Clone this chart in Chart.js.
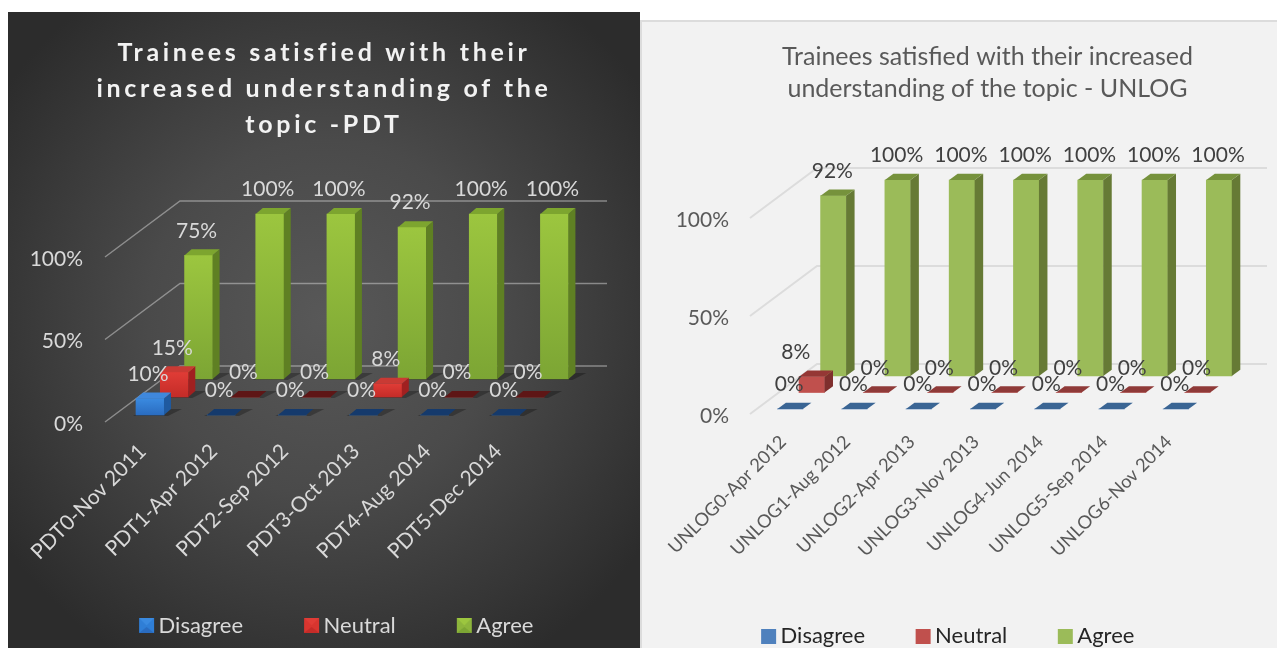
<!DOCTYPE html>
<html>
<head>
<meta charset="utf-8">
<script src="https://cdn.jsdelivr.net/npm/chart.js@4"></script>
<style>
html,body{margin:0;padding:0;background:#fff;width:1277px;height:648px;overflow:hidden}
#p1{position:absolute;left:8px;top:12px;width:632px;height:636px;background:radial-gradient(ellipse 62% 62% at 50% 48%,#585858 0%,#4a4a4a 45%,#2c2c2c 100%)}
#p2{position:absolute;left:640px;top:20px;width:637px;height:628px;background:#f2f2f2;box-shadow:inset 2px 2px 0 #dcdcdc}
canvas{display:block}
</style>
</head>
<body>
<div id="p1"><canvas id="c1" width="632" height="636"></canvas></div>
<div id="p2"><canvas id="c2" width="637" height="628"></canvas></div>
<script>
const seriesNames = ['Disagree','Neutral','Agree'];
const pdtCategories = ['PDT0-Nov 2011','PDT1-Apr 2012','PDT2-Sep 2012','PDT3-Oct 2013','PDT4-Aug 2014','PDT5-Dec 2014'];
const pdtDisagree = [10,0,0,0,0,0];
const pdtNeutral  = [15,0,0,8,0,0];
const pdtAgree    = [75,100,100,92,100,100];
const unlogCategories = ['UNLOG0-Apr 2012','UNLOG1-Aug 2012','UNLOG2-Apr 2013','UNLOG3-Nov 2013','UNLOG4-Jun 2014','UNLOG5-Sep 2014','UNLOG6-Nov 2014'];
const unlogDisagree = [0,0,0,0,0,0,0];
const unlogNeutral  = [8,0,0,0,0,0,0];
const unlogAgree    = [92,100,100,100,100,100,100];
const yTicks = [0,50,100];

const FONT = 'Lato, Carlito, sans-serif';

function marker(col, bevel){
  const c = document.createElement('canvas'); c.width = 30; c.height = 15;
  const g = c.getContext('2d'), x = 14;
  g.fillStyle = col.front; g.fillRect(x,0,15,15);
  if (bevel){
    g.fillStyle = col.light; g.beginPath(); g.moveTo(x,0); g.lineTo(x+15,0); g.lineTo(x+7.5,7.5); g.fill();
    g.fillStyle = col.dark; g.beginPath(); g.moveTo(x,15); g.lineTo(x+15,15); g.lineTo(x+7.5,9); g.fill();
  }
  return c;
}

function para(ctx, pts, fill){
  ctx.fillStyle = fill; ctx.beginPath();
  pts.forEach((p,i)=> i ? ctx.lineTo(p[0],p[1]) : ctx.moveTo(p[0],p[1]));
  ctx.closePath(); ctx.fill();
}

function bars3d(st){
  return {
    id:'bars3d',
    start(chart){
      const ctx = chart.ctx, tb = chart.titleBlock, od = tb.draw;
      tb.draw = function(a){
        ctx.save(); ctx.translate(st.titleDx,0);
        if ('letterSpacing' in ctx) ctx.letterSpacing = st.titleSpacing;
        od.call(this,a); ctx.restore();
      };
      const lg = chart.legend, of = lg.fit;
      lg.fit = function(){
        const mw = this.maxWidth; this.maxWidth = 3000;
        of.call(this);
        this.maxWidth = mw; this.height = st.legendH; this.width = mw;
      };
    },
    afterLayout(chart){
      const lg = chart.legend;
      lg.left = st.legendDx; lg.right = chart.width + st.legendDx; lg.top += st.legendDy;
    },
    beforeDatasetsDraw(chart){
      const ctx = chart.ctx, a = chart.chartArea, y = chart.scales.y;
      ctx.save(); ctx.strokeStyle = st.grid; ctx.lineWidth = st.gridW;
      y.ticks.forEach(t=>{
        const p = y.getPixelForValue(t.value);
        ctx.beginPath(); ctx.moveTo(a.left,p);
        ctx.lineTo(a.left+st.floorDx,p+st.floorDy);
        ctx.lineTo(a.right+st.floorDx,p+st.floorDy);
        ctx.stroke();
      });
      ctx.restore();
    },
    beforeDatasetDraw(chart,args){
      const ctx = chart.ctx, i = args.index, meta = args.meta;
      ctx.save();
      ctx.translate(st.baseDx+st.stepDx*i, st.baseDy+st.stepDy*i);
      if (st.shadow) meta.data.forEach(b=>{
        const l=b.x-b.width/2, r=b.x+b.width/2, bs=b.base;
        para(ctx,[[l-3,bs+1],[r+4,bs+1],[r+st.depthDx+11,bs+st.depthDy+0],[l+st.depthDx+3,bs+st.depthDy]],st.shadow);
      });
    },
    afterDatasetDraw(chart,args){
      const ctx = chart.ctx, i = args.index, meta = args.meta, col = st.colors[i];
      meta.data.forEach(b=>{
        const l=b.x-b.width/2, r=b.x+b.width/2, t=b.y, bs=b.base, dx=st.depthDx, dy=st.depthDy;
        const zero = Math.abs(bs-t) < 0.5;
        if (!zero) para(ctx,[[r,t],[r+dx,t+dy],[r+dx,bs+dy],[r,bs]],col.side);
        para(ctx,[[l,t],[r,t],[r+dx,t+dy],[l+dx,t+dy]],zero?col.plate:col.top);
      });
      ctx.restore();
    },
    afterDatasetsDraw(chart){
      const ctx = chart.ctx;
      ctx.save();
      ctx.font = st.labelFont; ctx.fillStyle = st.labelColor;
      ctx.textAlign='center'; ctx.textBaseline='middle';
      chart.data.datasets.forEach((ds,i)=>{
        chart.getDatasetMeta(i).data.forEach((b,j)=>{
          const nudge = (st.nudge[i] && st.nudge[i][j]) || 0;
          ctx.fillText(ds.data[j]+'%', b.x+st.baseDx+st.stepDx*i+st.labelDx+nudge, b.y+st.baseDy+st.stepDy*i+st.labelDy);
        });
      });
      ctx.restore();
    }
  };
}

function build(id, cats, vals, title, st){
  const c = document.getElementById(id);
  const chart = new Chart(c,{
    type:'bar',
    data:{labels:cats,datasets:vals.map((v,i)=>({
      label:seriesNames[i],data:v,grouped:false,barThickness:st.barW,
      backgroundColor:(cx)=>{
        const col = st.colors[i];
        if (!st.gradient || !cx.chart.chartArea) return col.front;
        const y = cx.chart.scales.y;
        const t = y.getPixelForValue(cx.raw||0), b = y.getPixelForValue(0);
        const g = cx.chart.ctx.createLinearGradient(0,t,0,b+0.01);
        g.addColorStop(0,col.light); g.addColorStop(1,col.dark);
        return g;
      },
      clip:false
    }))},
    options:{
      responsive:false,animation:false,
      layout:{padding:{right:st.padRight}},
      plugins:{
        tooltip:{enabled:false},
        title:{display:true,text:title,color:st.titleColor,
          font:{family:FONT,size:st.titleSize,weight:st.titleWeight,lineHeight:st.titleLH/st.titleSize},
          padding:{top:st.titleTop,bottom:st.titleBottom}},
        legend:{position:'bottom',
          labels:{color:st.legendColor,font:{family:FONT,size:st.legendSize},boxWidth:15,usePointStyle:true,padding:st.legendPad,
            generateLabels(ch){
              return Chart.defaults.plugins.legend.labels.generateLabels(ch).map((it,k)=>{
                it.pointStyle = marker(st.colors[k],!!st.gradient); return it;
              });
            }}}
      },
      scales:{
        x:{offset:true,grid:{display:false},border:{display:false},
          afterFit(s){s.height=st.axisH;},
          ticks:{color:st.tickColor,font:{family:FONT,size:st.xTickSize},minRotation:45,maxRotation:45,autoSkip:false,padding:st.xPad,labelOffset:st.xOffset}},
        y:{min:0,max:100,grid:{display:false},border:{display:false},
          afterFit(s){s.width=st.yW;},
          afterBuildTicks(s){s.ticks=yTicks.map(v=>({value:v}));},
          ticks:{color:st.tickColor,font:{family:FONT,size:st.tickSize},padding:st.yPad,labelOffset:2,callback:v=>v+'%'}}
      }
    },
    plugins:[bars3d(st)]
  });
  return chart;
}

build('c1',pdtCategories,[pdtDisagree,pdtNeutral,pdtAgree],
 ['Trainees satisfied with their','increased understanding of the','topic -PDT'],
 {barW:28,baseDx:9.4,baseDy:-7,stepDx:24.3,stepDy:-18,depthDx:7,depthDy:-6,floorDx:75,floorDy:-56,
  padRight:108,yW:97,yPad:14,axisH:150,legendH:76,legendDy:-12,legendPad:54.5,legendDx:9,legendSize:22,legendColor:'#d9d9d9',
  titleColor:'#f2f2f2',titleSize:25,titleWeight:'bold',titleLH:36,titleTop:23,titleBottom:114,titleDx:54,titleSpacing:'3.7px',
  tickColor:'#d9d9d9',tickSize:21,xTickSize:21,xPad:9,xOffset:2,
  grid:'rgba(200,200,200,0.55)',gridW:1.5,gradient:true,shadow:'rgba(0,0,0,0.28)',
  labelFont:'21px '+FONT,labelColor:'#d9d9d9',labelDx:-2,labelDy:-24.5,nudge:{},
  colors:[
   {front:'#2f7ed6',light:'#3a8ae0',dark:'#2a6cc0',side:'#1f5aa0',top:'#3f88dc',plate:'#153a6c'},
   {front:'#d8352f',light:'#e03c36',dark:'#c42c28',side:'#a02020',top:'#c93a34',plate:'#5e1616'},
   {front:'#8db53c',light:'#9cc63f',dark:'#7ca534',side:'#5f8023',top:'#7da52f',plate:'#5f8023'}
  ]});

build('c2',unlogCategories,[unlogDisagree,unlogNeutral,unlogAgree],
 ['Trainees satisfied with their increased','understanding of the topic - UNLOG'],
 {barW:25.5,baseDx:8,baseDy:-5,stepDx:21.6,stepDy:-16.5,depthDx:8.5,depthDy:-6.3,floorDx:67,floorDy:-50,
  padRight:77,yW:110,yPad:13,axisH:161,legendH:73,legendDy:6,legendPad:44,legendDx:-14,legendSize:22,legendColor:'#262626',
  titleColor:'#595959',titleSize:25,titleWeight:'normal',titleLH:32,titleTop:21,titleBottom:113,titleDx:67.5,titleSpacing:'0px',
  tickColor:'#595959',tickSize:21,xTickSize:18.3,xPad:9,xOffset:1,
  grid:'#dcdcdc',gridW:2,gradient:false,shadow:null,
  labelFont:'21px '+FONT,labelColor:'#404040',labelDx:-1,labelDy:-24.5,nudge:{1:{0:-15}},
  colors:[
   {front:'#4f81bd',side:'#2f5b8c',top:'#3f6f9f',plate:'#3a6594'},
   {front:'#c0504d',side:'#7f2f2d',top:'#953735',plate:'#8f3a38'},
   {front:'#9bbb59',side:'#667a35',top:'#76923c',plate:'#76923c'}
  ]});
</script>
</body>
</html>
